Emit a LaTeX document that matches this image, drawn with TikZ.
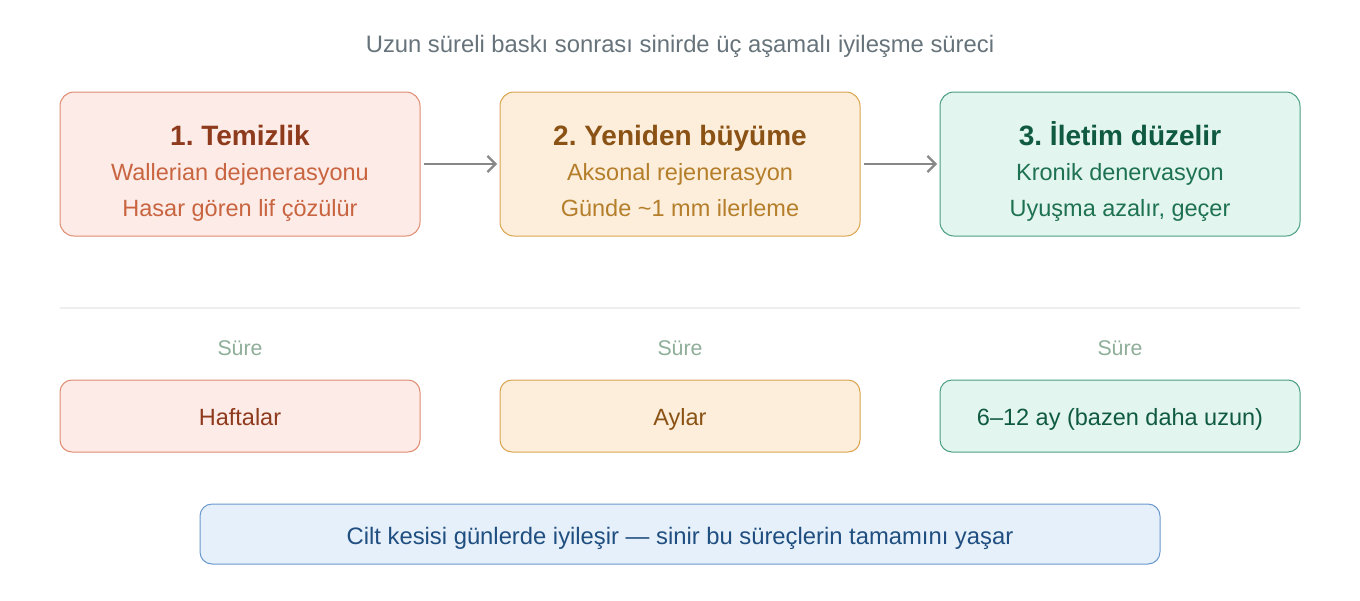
\documentclass[tikz,border=0pt]{standalone}
\usepackage{fontspec}
\setmainfont{Liberation Sans}
\usepackage{tikz}
\usetikzlibrary{arrows.meta,positioning}
\frenchspacing
\definecolor{clnfill}{HTML}{FCEBE6}
\definecolor{clnline}{HTML}{E08A70}
\definecolor{clnhead}{HTML}{8E3A1C}
\definecolor{clnsub}{HTML}{C96440}
\definecolor{grwfill}{HTML}{FDEEDC}
\definecolor{grwline}{HTML}{D9A44E}
\definecolor{grwhead}{HTML}{8A5214}
\definecolor{grwsub}{HTML}{B57E2A}
\definecolor{cndfill}{HTML}{E2F5EE}
\definecolor{cndline}{HTML}{4A9E80}
\definecolor{cndhead}{HTML}{0F5A40}
\definecolor{cndsub}{HTML}{1E7252}
\definecolor{notefill}{HTML}{E6F0FA}
\definecolor{noteline}{HTML}{6A98CC}
\definecolor{notetext}{HTML}{1F4E80}
\definecolor{titlegray}{HTML}{66737A}
\definecolor{suregray}{HTML}{8EAE98}
\definecolor{sepgray}{HTML}{EEEEEE}
\definecolor{arrgray}{HTML}{888888}
\tikzset{
    %Define standard arrow tip
    >={Straight Barb[length=8pt,width=16pt]},
    %Define style for stage boxes
    stagebox/.style={
           rectangle,
           rounded corners=14pt,
           line width=1pt,
           outer sep=0pt,
           minimum width=360pt,
           minimum height=144pt},
    %Define style for duration boxes
    timebox/.style={
           rectangle,
           rounded corners=12pt,
           line width=1pt,
           outer sep=0pt,
           minimum width=360pt,
           minimum height=72pt},
    head/.style={
           anchor=base,
           font=\fontsize{28}{32}\selectfont\bfseries},
    sub/.style={
           anchor=base,
           font=\fontsize{23.5}{28}\selectfont},
    surelabel/.style={
           anchor=base,
           text=suregray,
           font=\fontsize{21.3}{26}\selectfont},
    % Define arrow style
    pil/.style={
           ->,
           draw=arrgray,
           line width=2.2pt,
           shorten <=4pt,
           shorten >=3pt}
}
\begin{document}
\begin{tikzpicture}[x=1pt,y=-1pt]
\useasboundingbox (0,0) rectangle (1360,600);
\node[anchor=base, text=titlegray, font=\fontsize{23.8}{28}\selectfont] (title) at (680,52.3)
    {Uzun süreli baskı sonrası sinirde üç aşamalı iyileşme süreci};
% stages
\node[stagebox, fill=clnfill, draw=clnline] (clean) at (240,164) {};
\node[stagebox, fill=grwfill, draw=grwline, right=80pt of clean] (regrow) {};
\node[stagebox, fill=cndfill, draw=cndline, right=80pt of regrow] (conduct) {};
\node[head, text=clnhead] (cleanH) at ([yshift=19pt]clean.center) {1. Temizlik};
\node[sub, text=clnsub] (cleanA) at ([yshift=-16pt]clean.center) {Wallerian dejenerasyonu};
\node[sub, text=clnsub] (cleanB) at ([yshift=-52pt]clean.center) {Hasar gören lif çözülür};
\node[head, text=grwhead] (regrowH) at ([yshift=19pt]regrow.center) {2. Yeniden büyüme};
\node[sub, text=grwsub] (regrowA) at ([yshift=-16pt]regrow.center) {Aksonal rejenerasyon};
\node[sub, text=grwsub] (regrowB) at ([yshift=-52pt]regrow.center) {Günde \textasciitilde1 mm ilerleme};
\node[head, text=cndhead] (conductH) at ([yshift=19pt]conduct.center) {3. İletim düzelir};
\node[sub, text=cndsub] (conductA) at ([yshift=-16pt]conduct.center) {Kronik denervasyon};
\node[sub, text=cndsub] (conductB) at ([yshift=-52pt]conduct.center) {Uyuşma azalır, geçer};
\draw[pil] (clean) -- (regrow);
\draw[pil] (regrow) -- (conduct);
% separator
\coordinate (sepL) at (60,308);
\coordinate (sepR) at (1300,308);
\draw[sepgray, line width=1.5pt] (sepL) -- (sepR);
% durations
\node[timebox, fill=clnfill, draw=clnline] (weeks) at (240,416) {};
\node[timebox, fill=grwfill, draw=grwline, right=80pt of weeks] (months) {};
\node[timebox, fill=cndfill, draw=cndline, right=80pt of months] (year) {};
\node[sub, text=clnhead] (weeksT) at ([yshift=-9.7pt]weeks.center) {Haftalar};
\node[sub, text=grwhead] (monthsT) at ([yshift=-9.7pt]months.center) {Aylar};
\node[sub, text=cndhead] (yearT) at ([yshift=-9.7pt]year.center) {6–12 ay (bazen daha uzun)};
\node[surelabel] (weeksS) at ([yshift=60.3pt]weeks.center) {Süre};
\node[surelabel] (monthsS) at ([yshift=60.3pt]months.center) {Süre};
\node[surelabel] (yearS) at ([yshift=60.3pt]year.center) {Süre};
% note
\node[rectangle, rounded corners=12pt, line width=1pt, outer sep=0pt,
      minimum width=960pt, minimum height=60pt, fill=notefill, draw=noteline] (note) at (680,534) {};
\node[anchor=base, text=notetext, font=\fontsize{23.8}{28}\selectfont] (noteT) at ([yshift=-10pt]note.center)
    {Cilt kesisi günlerde iyileşir — sinir bu süreçlerin tamamını yaşar};
\end{tikzpicture}
\end{document}
